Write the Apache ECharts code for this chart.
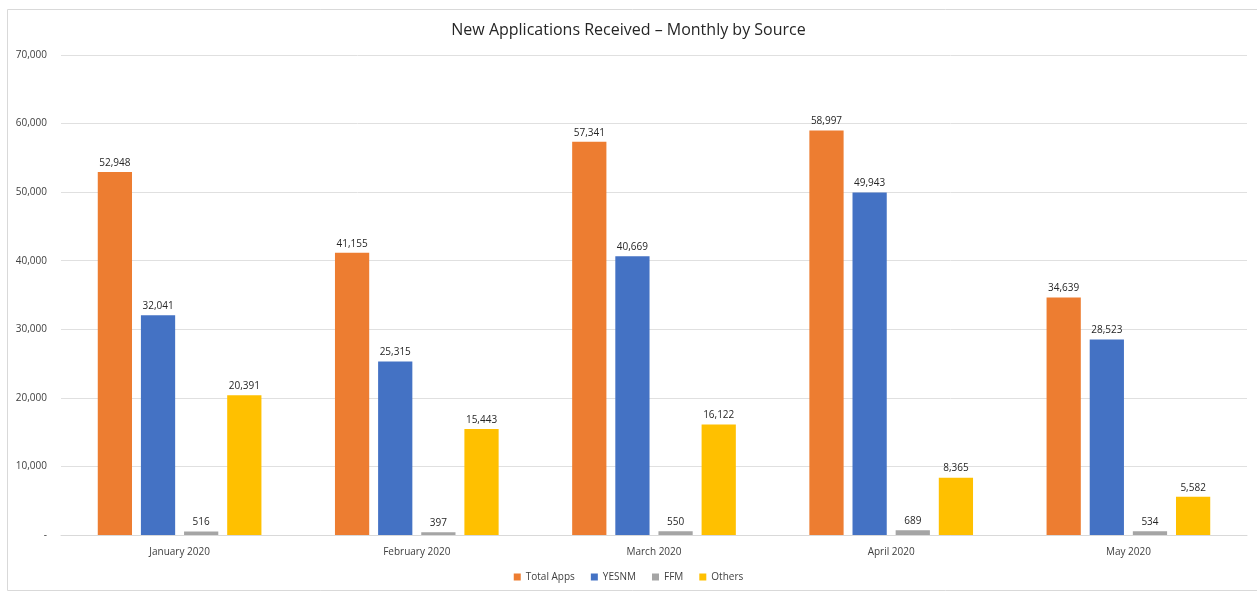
<!DOCTYPE html>
<html><head><meta charset="utf-8">
<script src="https://cdn.jsdelivr.net/npm/echarts@6/dist/echarts.min.js"></script>
<style>html,body{margin:0;padding:0;background:#fff}#c{width:1257px;height:593px}</style>
</head><body><div id="c"></div>
<script>
const categories = ['January 2020','February 2020','March 2020','April 2020','May 2020'];
const totalApps = [52948, 41155, 57341, 58997, 34639];
const yesnm = [32041, 25315, 40669, 49943, 28523];
const ffm = [516, 397, 550, 689, 534];
const others = [20391, 15443, 16122, 8365, 5582];
const seriesNames = ['Total Apps','YESNM','FFM','Others'];
const colors = ['#ED7D31','#4472C4','#A5A5A5','#FFC000'];
const font = '"Open Sans", "Liberation Sans", sans-serif';

const chart = echarts.init(document.getElementById('c'), null, {renderer:'canvas'});
const fmt = v => v.toLocaleString('en-US');
const mk = (name, data, i) => ({
  name, type:'bar', data, barGap:'26%', barCategoryGap:'31%',
  itemStyle:{color:colors[i]},
  label:{show:true, position:'top', distance:4, color:'#262626', fontSize:10, fontFamily:font,
         formatter: p => fmt(p.value)}
});
chart.setOption({
  animation:false,
  color: colors,
  graphic:[{type:'rect', shape:{x:7.5,y:9.5,width:1260,height:581}, style:{fill:'none', stroke:'#d9d9d9', lineWidth:1}, silent:true, z:-1}],
  title:{text:'New Applications Received \u2013 Monthly by Source', left:'center', top:17,
    textStyle:{fontFamily:font, fontSize:16, fontWeight:'normal', color:'#262626'}},
  legend:{bottom:6, itemWidth:7, itemHeight:7, itemGap:16, icon:'rect',
    textStyle:{fontFamily:font, fontSize:10, color:'#404040'}, data:seriesNames},
  grid:{left:61, right:10, top:55, bottom:58},
  xAxis:{type:'category', data:categories,
    axisLine:{lineStyle:{color:'#d9d9d9'}}, axisTick:{show:false},
    axisLabel:{fontFamily:font, fontSize:10, color:'#404040', margin:12}},
  yAxis:{type:'value', min:0, max:70000, interval:10000,
    axisLine:{show:false}, axisTick:{show:false},
    splitLine:{lineStyle:{color:'#e0e0e0', width:1}},
    axisLabel:{fontFamily:font, fontSize:10, color:'#404040', margin:14,
      formatter: v => v === 0 ? '-' : fmt(v)}},
  series:[mk('Total Apps', totalApps, 0), mk('YESNM', yesnm, 1), mk('FFM', ffm, 2), mk('Others', others, 3)]
});
</script></body></html>
